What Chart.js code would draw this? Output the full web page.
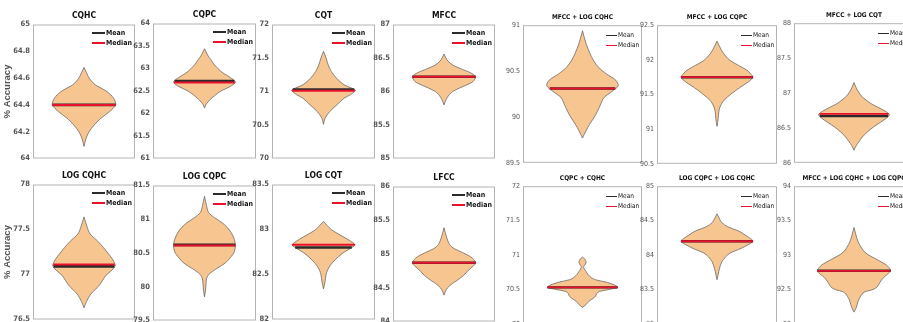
<!DOCTYPE html>
<html>
<head>
<meta charset="utf-8">
<script src="https://cdn.jsdelivr.net/npm/chart.js@4.4.0/dist/chart.umd.min.js"></script>
<style>
  body { margin: 0; width: 903px; height: 322px; overflow: hidden; position: relative; background: #fff;
         font-family: "Liberation Sans Narrow", "DejaVu Sans Condensed", sans-serif; }
  canvas { position: absolute; }
  .ttl { position: absolute; text-align: center; font-weight: bold; color: #111; white-space: nowrap; }
  .leg { position: absolute; white-space: nowrap; color: #111; font-weight: bold; }
  .leg span { display: inline-block; vertical-align: middle; }
</style>
</head>
<body>
<script>
// panel titles, in reading order (left block 4 x 2, right block 3 x 2)
const panelTitles = ['CQHC', 'CQPC', 'CQT', 'MFCC',
    'MFCC + LOG CQHC', 'MFCC + LOG CQPC', 'MFCC + LOG CQT',
    'LOG CQHC', 'LOG CQPC', 'LOG CQT', 'LFCC',
    'CQPC + CQHC', 'LOG CQPC + LOG CQHC', 'MFCC + LOG CQHC + LOG CQPC'];

// y axis ranges and tick steps
const yMins  = [64, 61, 70, 85, 89.5, 90.5, 86, 76.5, 79.5, 82, 84, 70, 83, 92];
const yMaxs  = [65, 64, 72, 87, 91, 92.5, 88, 78, 81.5, 83.5, 86, 72, 85, 94];
const ySteps = [0.2, 0.5, 0.5, 0.5, 0.5, 0.5, 0.5, 0.5, 0.5, 0.5, 0.5, 0.5, 0.5, 0.5];

const meanValues   = [64.40, 62.72, 71.03, 86.22, 90.31, 91.75, 86.67, 77.09, 80.62, 82.80, 84.87, 70.53, 84.20, 92.77];
const medianValues = [64.40, 62.69, 71.01, 86.22, 90.31, 91.75, 86.70, 77.11, 80.61, 82.83, 84.87, 70.53, 84.20, 92.77];

// violin outlines: accuracy levels and relative half width of the density at each level
const violinLevels = [
    [64.09, 64.15, 64.2, 64.25, 64.3, 64.35, 64.4, 64.45, 64.5, 64.55, 64.6, 64.64, 64.68],
    [62.12, 62.2, 62.3, 62.4, 62.5, 62.6, 62.7, 62.8, 62.9, 63.0, 63.1, 63.2, 63.3, 63.44],
    [70.51, 70.6, 70.7, 70.8, 70.9, 70.95, 71.0, 71.02, 71.05, 71.1, 71.2, 71.3, 71.4, 71.5, 71.6],
    [85.8, 85.88, 85.95, 86.0, 86.05, 86.1, 86.15, 86.22, 86.28, 86.33, 86.4, 86.47, 86.56],
    [89.77, 89.85, 89.92, 90.0, 90.06, 90.13, 90.21, 90.28, 90.34, 90.4, 90.47, 90.54, 90.62, 90.7, 90.8, 90.94],
    [91.04, 91.15, 91.25, 91.32, 91.4, 91.46, 91.53, 91.6, 91.68, 91.75, 91.8, 91.85, 91.92, 91.99, 92.06, 92.13, 92.27],
    [86.18, 86.25, 86.3, 86.37, 86.44, 86.51, 86.58, 86.64, 86.69, 86.74, 86.8, 86.85, 86.9, 86.96, 87.05, 87.15],
    [76.63, 76.7, 76.78, 76.88, 76.99, 77.05, 77.1, 77.16, 77.23, 77.3, 77.37, 77.45, 77.53, 77.64],
    [79.85, 79.95, 80.05, 80.12, 80.18, 80.23, 80.28, 80.35, 80.43, 80.52, 80.62, 80.7, 80.8, 80.88, 80.95, 81.02, 81.1, 81.2, 81.34],
    [82.34, 82.42, 82.5, 82.55, 82.6, 82.66, 82.74, 82.8, 82.83, 82.88, 82.92, 82.96, 83.0, 83.09],
    [84.39, 84.45, 84.5, 84.56, 84.61, 84.68, 84.76, 84.82, 84.87, 84.92, 84.96, 85.0, 85.03, 85.08, 85.14, 85.25, 85.39],
    [70.24, 70.28, 70.33, 70.37, 70.4, 70.44, 70.47, 70.5, 70.53, 70.56, 70.6, 70.64, 70.67, 70.72, 70.76, 70.8, 70.83, 70.87, 70.9, 70.94, 70.97],
    [83.64, 83.72, 83.8, 83.9, 83.97, 84.03, 84.08, 84.14, 84.2, 84.25, 84.29, 84.33, 84.36, 84.41, 84.47, 84.53, 84.6],
    [92.17, 92.24, 92.33, 92.4, 92.46, 92.5, 92.54, 92.6, 92.67, 92.72, 92.77, 92.82, 92.86, 92.93, 93.04, 93.19, 93.3, 93.4]
];
const violinHalfWidths = [
    [0, 0.04, 0.1, 0.2, 0.33, 0.5, 0.62, 0.58, 0.45, 0.22, 0.1, 0.05, 0],
    [0, 0.03, 0.1, 0.2, 0.32, 0.5, 0.6, 0.5, 0.36, 0.26, 0.18, 0.12, 0.06, 0],
    [0, 0.03, 0.12, 0.26, 0.4, 0.52, 0.6, 0.62, 0.55, 0.4, 0.25, 0.15, 0.09, 0.05, 0],
    [0, 0.04, 0.1, 0.17, 0.3, 0.45, 0.57, 0.62, 0.52, 0.36, 0.16, 0.06, 0],
    [0, 0.06, 0.12, 0.2, 0.25, 0.3, 0.36, 0.5, 0.6, 0.56, 0.4, 0.27, 0.18, 0.12, 0.06, 0],
    [0, 0.02, 0.03, 0.05, 0.1, 0.17, 0.27, 0.38, 0.52, 0.6, 0.56, 0.5, 0.36, 0.22, 0.14, 0.08, 0],
    [0, 0.04, 0.08, 0.14, 0.22, 0.32, 0.44, 0.54, 0.59, 0.52, 0.39, 0.28, 0.2, 0.12, 0.05, 0],
    [0, 0.05, 0.13, 0.3, 0.43, 0.55, 0.61, 0.57, 0.48, 0.38, 0.27, 0.12, 0.06, 0],
    [0, 0.02, 0.03, 0.04, 0.08, 0.16, 0.26, 0.4, 0.5, 0.58, 0.6, 0.58, 0.52, 0.44, 0.34, 0.2, 0.08, 0.04, 0],
    [0, 0.03, 0.05, 0.08, 0.13, 0.22, 0.38, 0.55, 0.61, 0.5, 0.38, 0.26, 0.15, 0],
    [0, 0.03, 0.07, 0.16, 0.26, 0.38, 0.48, 0.57, 0.62, 0.58, 0.52, 0.42, 0.34, 0.2, 0.11, 0.05, 0],
    [0, 0.06, 0.11, 0.18, 0.22, 0.24, 0.28, 0.45, 0.59, 0.55, 0.42, 0.22, 0.15, 0.09, 0.06, 0.03, 0.02, 0.05, 0.06, 0.04, 0],
    [0, 0.02, 0.04, 0.08, 0.14, 0.22, 0.36, 0.5, 0.6, 0.54, 0.47, 0.4, 0.33, 0.18, 0.08, 0.04, 0],
    [0, 0.04, 0.07, 0.11, 0.17, 0.32, 0.39, 0.43, 0.49, 0.56, 0.61, 0.58, 0.53, 0.39, 0.18, 0.07, 0.03, 0]
];

// plot boxes on the page: left, top, width, height, style group (0 = left block, 1 = right block)
const boxes = [
    [33, 23, 102, 137, 0], [153, 22, 103, 138, 0], [272, 23, 103, 137, 0], [393, 23, 102, 137, 0],
    [523, 24, 119, 140, 1], [657, 24, 120, 141, 1], [794, 22, 120, 142, 1],
    [33, 183, 102, 138, 0], [153, 184, 103, 138, 0], [272, 183, 103, 138, 0], [393, 185, 102, 138, 0],
    [523, 185, 119, 140, 1], [657, 185, 120, 140, 1], [794, 185, 120, 140, 1]
];

const AX = 33, PAD = 6;
const FAMILY = '"Liberation Sans Narrow", "DejaVu Sans Condensed", sans-serif';
const FILL = '#F7C590', MEAN_C = '#2b2b2b', MED_C = '#e8122c';

// draws the grey frame round the plot area
const framePlugin = {
    id: 'frame',
    afterDraw(chart) {
        const a = chart.chartArea, ctx = chart.ctx;
        ctx.save();
        ctx.strokeStyle = '#b4b4b4';
        ctx.lineWidth = 1;
        ctx.strokeRect(a.left + 0.5, a.top + 0.5, a.right - a.left - 1, a.bottom - a.top - 1);
        ctx.restore();
    }
};

function widthAt(levels, widths, v) {
    for (let k = 1; k < levels.length; k++) {
        if (v <= levels[k]) {
            const f = (v - levels[k - 1]) / (levels[k] - levels[k - 1]);
            return widths[k - 1] + f * (widths[k] - widths[k - 1]);
        }
    }
    return 0;
}

boxes.forEach((b, i) => {
    const [l, t, w, h, grp] = b;
    const cv = document.createElement('canvas');
    cv.width = AX + w + 2;
    cv.height = h + 2 * PAD;
    cv.style.left = (l - AX) + 'px';
    cv.style.top = (t - PAD) + 'px';
    document.body.appendChild(cv);

    const lv = violinLevels[i], hw = violinHalfWidths[i];
    const rightSide = lv.map((v, k) => ({ x: hw[k], y: v }));
    const leftSide = lv.map((v, k) => ({ x: -hw[k], y: v })).reverse();
    const wMean = widthAt(lv, hw, meanValues[i]);
    const wMed = widthAt(lv, hw, medianValues[i]);

    new Chart(cv, {
        type: 'scatter',
        data: {
            datasets: [
                { data: [{ x: -wMed, y: medianValues[i] }, { x: wMed, y: medianValues[i] }],
                  showLine: true, borderColor: MED_C, borderWidth: grp ? 1.8 : 2, pointRadius: 0, order: 1 },
                { data: [{ x: -wMean, y: meanValues[i] }, { x: wMean, y: meanValues[i] }],
                  showLine: true, borderColor: MEAN_C, borderWidth: grp ? 2.4 : 2.6, pointRadius: 0, order: 2 },
                { data: rightSide.concat(leftSide), showLine: true, fill: 'shape',
                  backgroundColor: FILL, borderColor: '#6f6a66', borderWidth: 0.8,
                  pointRadius: 0, tension: 0.3, order: 3 }
            ]
        },
        options: {
            responsive: false,
            animation: false,
            events: [],
            layout: { padding: { top: PAD, bottom: PAD, left: 0, right: 2 } },
            plugins: { legend: { display: false }, tooltip: { enabled: false } },
            scales: {
                x: { type: 'linear', min: -1, max: 1, display: false },
                y: {
                    min: yMins[i], max: yMaxs[i],
                    afterFit: s => { s.width = AX; },
                    grid: { display: false, drawTicks: false },
                    border: { display: false },
                    ticks: {
                        stepSize: ySteps[i], padding: 3, color: '#555',
                        callback: v => String(Math.round(v * 10) / 10),
                        font: { family: FAMILY, size: grp ? 7 : 7.5, weight: grp ? 'normal' : 'bold' }
                    },
                    title: {
                        display: i === 0 || i === 7, text: '% Accuracy', color: '#555',
                        font: { family: '"Liberation Sans", Arial, sans-serif', size: 9.5, weight: 'bold' },
                        padding: { top: 2, bottom: 0 }
                    }
                }
            }
        },
        plugins: [framePlugin]
    });

    // title
    const fs = grp ? 6.5 : 8.5;
    const tt = document.createElement('div');
    tt.className = 'ttl';
    tt.textContent = panelTitles[i];
    tt.style.left = l + 'px';
    tt.style.width = w + 'px';
    tt.style.fontSize = fs + 'px';
    tt.style.lineHeight = fs + 'px';
    tt.style.top = (t - (grp ? 7 : 8) - fs / 2) + 'px';
    document.body.appendChild(tt);

    // legend (Mean / Median)
    [['Mean', MEAN_C], ['Median', MED_C]].forEach((item, k) => {
        const lg = document.createElement('div');
        lg.className = 'leg';
        const lfs = grp ? 6.5 : 7;
        lg.style.fontSize = lfs + 'px';
        lg.style.lineHeight = lfs + 'px';
        lg.style.fontWeight = grp ? 'normal' : 'bold';
        lg.style.left = (l + w - (grp ? 36 : 43)) + 'px';
        lg.style.top = (t + (grp ? 11 : 10) + k * 10 - lfs / 2) + 'px';
        lg.innerHTML = '<span style="width:' + (grp ? 11 : 13) + 'px;border-top:' + (grp ? 1.3 : 2) +
            'px solid ' + item[1] + ';margin-right:1px"></span><span>' + item[0] + '</span>';
        document.body.appendChild(lg);
    });
});
</script>
</body>
</html>
